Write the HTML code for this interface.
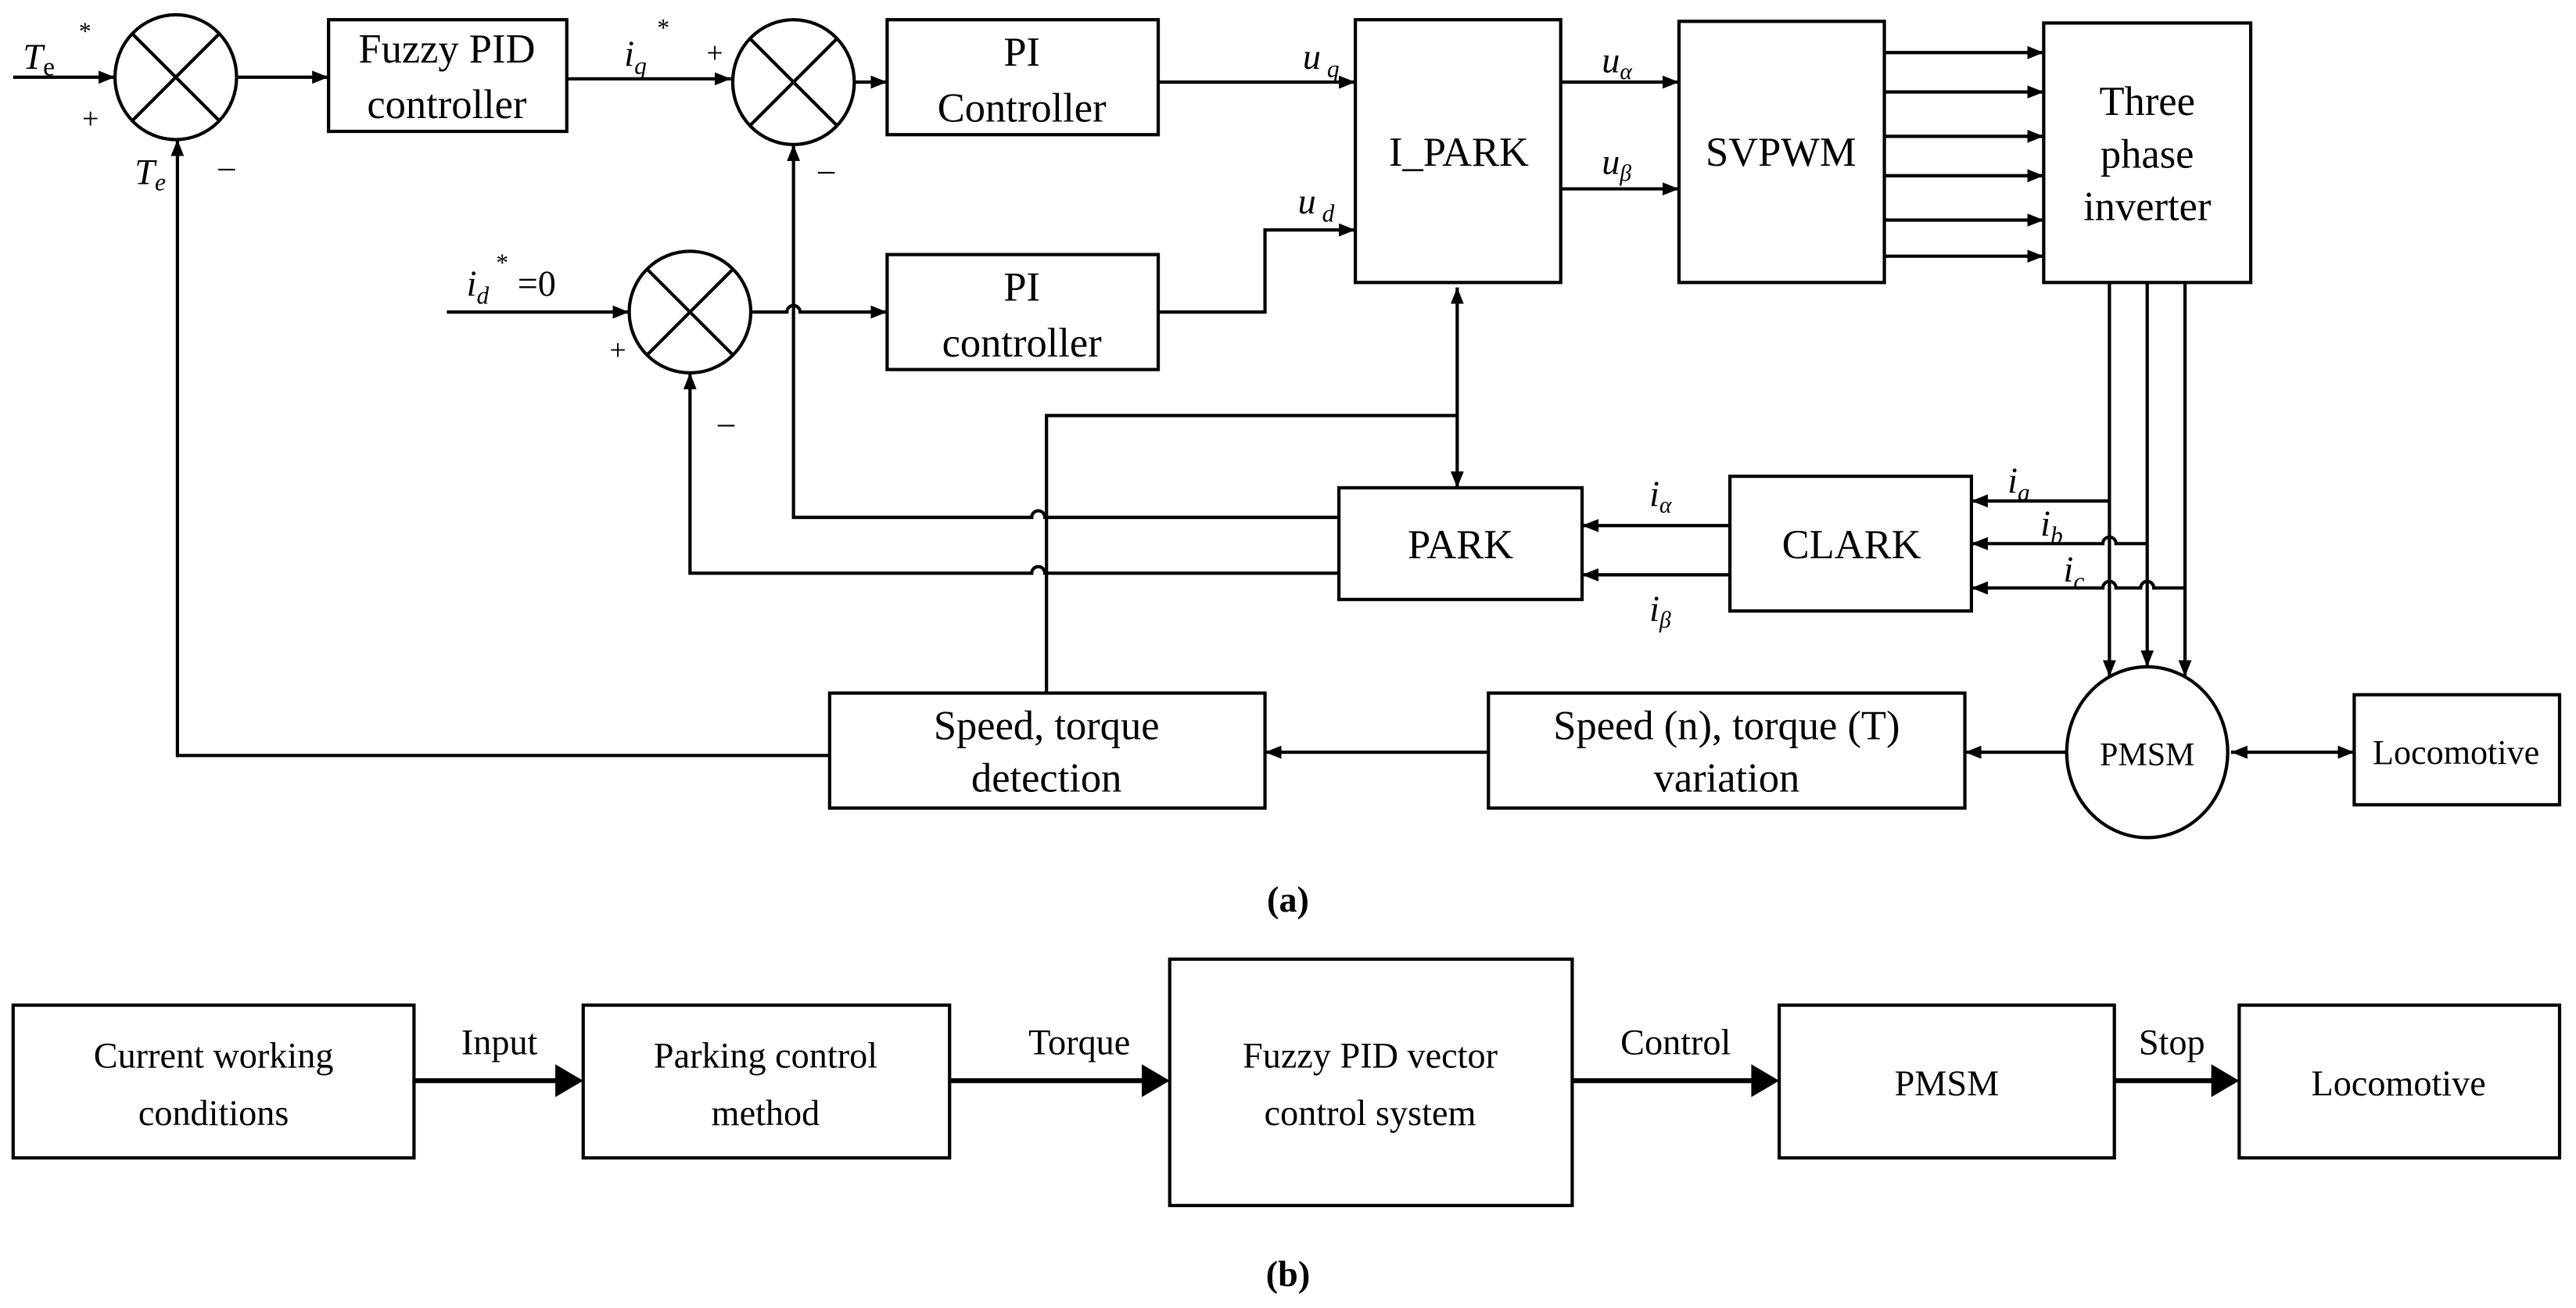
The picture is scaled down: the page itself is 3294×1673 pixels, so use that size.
<!DOCTYPE html>
<html><head><meta charset="utf-8"><style>
html,body{margin:0;padding:0;background:#fff;}
svg{display:block;}
text{font-family:"Liberation Serif",serif;fill:#000;}
</style></head><body>
<svg width="3294" height="1673" viewBox="0 0 1568 796.4" preserveAspectRatio="none" xmlns="http://www.w3.org/2000/svg">
<defs>
<marker id="a" viewBox="0 0 10 10" refX="10" refY="5" markerWidth="5" markerHeight="5" orient="auto-start-reverse"><path d="M0,1 L10,5 L0,9 z" fill="#000"/></marker>
</defs>
<g fill="none" stroke="#000" stroke-width="2">
<ellipse cx="107" cy="47" rx="37" ry="38"/><path d="M81,21 L133,73 M133,21 L81,73"/>
<ellipse cx="483" cy="50" rx="37" ry="38"/><path d="M457,24 L509,76 M509,24 L457,76"/>
<ellipse cx="420" cy="190" rx="37" ry="37"/><path d="M394,164 L446,216 M446,164 L394,216"/>
<rect x="200" y="12" width="145" height="68"/>
<rect x="540" y="12" width="165" height="70"/>
<rect x="540" y="155" width="165" height="70"/>
<rect x="825" y="12" width="125" height="160"/>
<rect x="1022" y="13" width="125" height="159"/>
<rect x="1244" y="14" width="126" height="158"/>
<rect x="815" y="297" width="148" height="68"/>
<rect x="1053" y="290" width="147" height="82"/>
<rect x="505" y="422" width="265" height="70"/>
<rect x="906" y="422" width="290" height="70"/>
<rect x="1433" y="423" width="125" height="67"/>
<ellipse cx="1307" cy="458" rx="49" ry="52"/>
<path d="M8,47 H70" marker-end="url(#a)"/>
<path d="M145,47 H200" marker-end="url(#a)"/>
<path d="M345,48 H445" marker-end="url(#a)"/>
<path d="M521,50 H540" marker-end="url(#a)"/>
<path d="M705,50 H825" marker-end="url(#a)"/>
<path d="M705,190 H770 V140 H825" marker-end="url(#a)"/>
<path d="M272,190 H383" marker-end="url(#a)"/>
<path d="M457,190 H479 A4,4 0 0 1 487,190 H540" marker-end="url(#a)"/>
<path d="M815,315 H636 A4,4 0 0 0 628,315 H483 V88" marker-end="url(#a)"/>
<path d="M815,349 H636 A4,4 0 0 0 628,349 H420 V227" marker-end="url(#a)"/>
<path d="M637,422 V253 H887"/>
<path d="M887,175 V297" marker-start="url(#a)" marker-end="url(#a)"/>
<path d="M950,50 H1022" marker-end="url(#a)"/>
<path d="M950,115 H1022" marker-end="url(#a)"/>
<path d="M1147,32 H1244" marker-end="url(#a)"/><path d="M1147,56 H1244" marker-end="url(#a)"/><path d="M1147,83 H1244" marker-end="url(#a)"/><path d="M1147,107 H1244" marker-end="url(#a)"/><path d="M1147,134 H1244" marker-end="url(#a)"/><path d="M1147,156 H1244" marker-end="url(#a)"/>
<path d="M1284,172 V412" marker-end="url(#a)"/>
<path d="M1307,172 V406" marker-end="url(#a)"/>
<path d="M1330,172 V412" marker-end="url(#a)"/>
<path d="M1053,320 H963" marker-end="url(#a)"/>
<path d="M1053,350 H963" marker-end="url(#a)"/>
<path d="M1284,305 H1200" marker-end="url(#a)"/>
<path d="M1307,331 H1288 A4,4 0 0 0 1280,331 H1200" marker-end="url(#a)"/>
<path d="M1330,358 H1311 A4,4 0 0 0 1303,358 H1288 A4,4 0 0 0 1280,358 H1200" marker-end="url(#a)"/>
<path d="M1358,458 H1433" marker-start="url(#a)" marker-end="url(#a)"/>
<path d="M1258,458 H1196" marker-end="url(#a)"/>
<path d="M906,458 H770" marker-end="url(#a)"/>
<path d="M505,460 H108 V85" marker-end="url(#a)"/>
<rect x="8" y="612" width="244" height="93"/>
<rect x="355" y="612" width="223" height="93"/>
<rect x="712" y="584" width="245" height="150"/>
<rect x="1083" y="612" width="204" height="93"/>
<rect x="1363" y="612" width="195" height="93"/>
<path d="M252,658 H340 M578,658 H697 M957,658 H1068 M1287,658 H1348" stroke-width="3"/>
</g>
<g fill="#000">
<path d="M338,648 L355,658 L338,668 z"/>
<path d="M695,648 L712,658 L695,668 z"/>
<path d="M1066,648 L1083,658 L1066,668 z"/>
<path d="M1346,648 L1363,658 L1346,668 z"/>
</g>
<g font-size="25" text-anchor="middle">
<text x="272" y="38">Fuzzy PID</text><text x="272" y="72">controller</text>
<text x="622" y="40">PI</text><text x="622" y="74">Controller</text>
<text x="622" y="183">PI</text><text x="622" y="217">controller</text>
<text x="888" y="101">I_PARK</text>
<text x="1084" y="101">SVPWM</text>
<text x="1307" y="70">Three</text><text x="1307" y="102">phase</text><text x="1307" y="134">inverter</text>
<text x="889" y="340">PARK</text>
<text x="1127" y="340">CLARK</text>
<text x="637" y="450">Speed, torque</text><text x="637" y="482">detection</text>
<text x="1051" y="450">Speed (n), torque (T)</text><text x="1051" y="482">variation</text>
<text x="1307" y="466" font-size="20">PMSM</text>
<text x="1495" y="465" font-size="21">Locomotive</text>
<text x="784" y="555" font-weight="bold" font-size="22">(a)</text>
<text x="784" y="783" font-weight="bold" font-size="22">(b)</text>
</g>
<g font-size="22" text-anchor="middle">
<text x="130" y="650">Current working</text><text x="130" y="685">conditions</text>
<text x="466" y="650">Parking control</text><text x="466" y="685">method</text>
<text x="834" y="650">Fuzzy PID vector</text><text x="834" y="685">control system</text>
<text x="1185" y="667">PMSM</text>
<text x="1460" y="667">Locomotive</text>
<text x="304" y="642">Input</text>
<text x="657" y="642">Torque</text>
<text x="1020" y="642">Control</text>
<text x="1322" y="642">Stop</text>
</g>
<g font-size="22" font-style="italic">
<text x="14" y="42">T<tspan font-style="normal" font-size="16" dy="4">e</tspan></text>
<text x="48" y="24" font-style="normal" font-size="15">*</text>
<text x="50" y="78" font-style="normal" font-size="18">+</text>
<text x="82" y="112">T<tspan font-size="15" dy="4">e</tspan></text>
<text x="133" y="108" font-style="normal" font-size="20">–</text>
<text x="380" y="40">i<tspan font-size="15" dy="5">q</tspan></text>
<text x="400" y="22" font-style="normal" font-size="15">*</text>
<text x="430" y="38" font-style="normal" font-size="18">+</text>
<text x="498" y="110" font-style="normal" font-size="20">–</text>
<text x="284" y="180">i<tspan font-size="15" dy="5">d</tspan></text>
<text x="302" y="165" font-style="normal" font-size="15">*</text>
<text x="315" y="180" font-style="normal">=0</text>
<text x="371" y="219" font-style="normal" font-size="18">+</text>
<text x="437" y="264" font-style="normal" font-size="20">–</text>
<text x="793" y="42">u<tspan font-size="15" dy="5"> q</tspan></text>
<text x="790" y="130">u<tspan font-size="15" dy="5"> d</tspan></text>
<text x="975" y="44">u<tspan font-size="14" dy="4">α</tspan></text>
<text x="975" y="106">u<tspan font-size="14" dy="4">β</tspan></text>
<text x="1004" y="308">i<tspan font-size="14" dy="4">α</tspan></text>
<text x="1004" y="378">i<tspan font-size="14" dy="4">β</tspan></text>
<text x="1222" y="300">i<tspan font-size="15" dy="5">a</tspan></text>
<text x="1242" y="326">i<tspan font-size="15" dy="5">b</tspan></text>
<text x="1256" y="354">i<tspan font-size="15" dy="5">c</tspan></text>
</g>
</svg>
</body></html>
